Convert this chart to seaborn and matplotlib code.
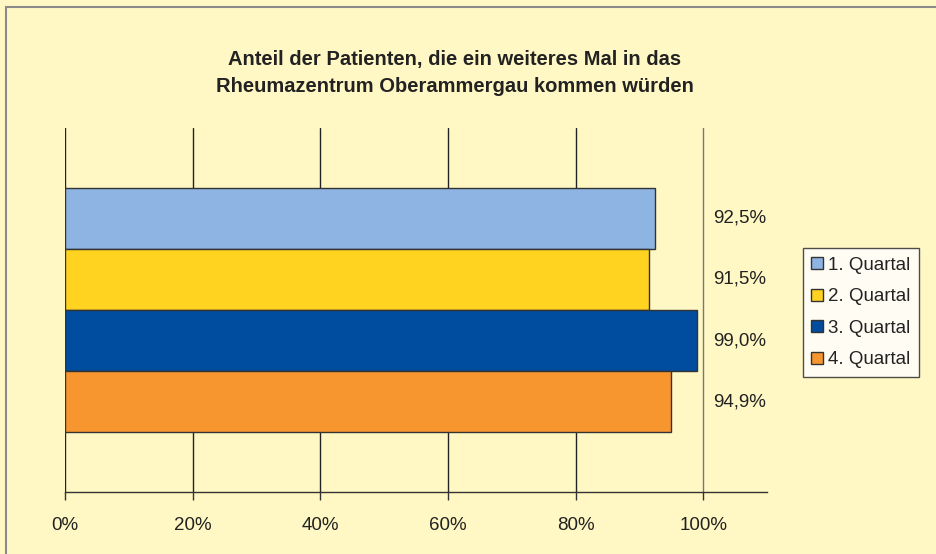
import pandas as pd
import seaborn as sns
import matplotlib.pyplot as plt
from matplotlib.patches import Rectangle

# ================== Daten ==================
quartale = ["1. Quartal", "2. Quartal", "3. Quartal", "4. Quartal"]
anteile = [92.5, 91.5, 99.0, 94.9]
wert_labels = ["92,5%", "91,5%", "99,0%", "94,9%"]
x_ticks = [0, 20, 40, 60, 80, 100]
x_tick_labels = ["0%", "20%", "40%", "60%", "80%", "100%"]
farben = ["#8EB4E3", "#FFD320", "#004C9E", "#F7962E"]

titel_zeilen = ["Anteil der Patienten, die ein weiteres Mal in das",
                "Rheumazentrum Oberammergau kommen würden"]

df = pd.DataFrame({"Gruppe": ["Patienten"] * 4, "Quartal": quartale, "Anteil": anteile})

# ================== Stil ==================
sns.set_theme(style="white")
plt.rcParams["font.family"] = ["Liberation Sans", "DejaVu Sans"]
bg = "#FFF8C4"

fig = plt.figure(figsize=(9.37, 5.54), dpi=100, facecolor=bg)
ax = fig.add_axes([65 / 937, 1 - 492 / 554, (767 - 65) / 937, (492 - 128) / 554])
ax.set_facecolor(bg)

# ================== Balken ==================
sns.barplot(
    data=df, x="Anteil", y="Gruppe", hue="Quartal", hue_order=quartale,
    palette=farben, orient="h", width=0.8, edgecolor="#333333", linewidth=1,
    saturation=1, ax=ax, legend=True
)

ax.set_xlim(0, 110)
ax.set_ylim(0.595, -0.595)
ax.set_xticks(x_ticks)
ax.set_xticklabels(x_tick_labels, fontsize=13.5, color="#222222")
ax.set_yticks([])
ax.set_xlabel("")
ax.set_ylabel("")
ax.tick_params(axis="x", direction="out", length=6, width=1, color="#333333", pad=12, bottom=True)
ax.grid(axis="x", color="#222222", linewidth=1)
ax.get_xgridlines()[-1].set_color("#777777")
ax.set_axisbelow(True)
for s in ["left", "right", "top"]:
    ax.spines[s].set_visible(False)
ax.spines["bottom"].set_color("#333333")
ax.spines["bottom"].set_linewidth(1)

# Werte rechts neben der Achse
for p, lab in zip(ax.patches[:4], wert_labels):
    ax.text(105.7, p.get_y() + p.get_height() / 2, lab, ha="center", va="center",
            fontsize=13.5, color="#222222", clip_on=False)

# ================== Legende ==================
handles, labels = ax.get_legend_handles_labels()
ax.get_legend().remove()
leg = fig.legend(handles, labels, loc="center left", bbox_to_anchor=(803 / 937, 1 - 312.5 / 554),
                 fontsize=13.5, frameon=True, fancybox=False, edgecolor="#222222",
                 handlelength=0.6, handleheight=0.6, handletextpad=0.3, labelspacing=0.78,
                 borderpad=0.45, borderaxespad=0)
leg.get_frame().set_linewidth(1)
leg.get_frame().set_facecolor("white")
for h in leg.legend_handles:
    h.set_edgecolor("#333333")
    h.set_linewidth(1)
for t in leg.get_texts():
    t.set_color("#222222")

# ================== Titel & Rahmen ==================
for zeile, basis in zip(titel_zeilen, [65.5, 92.5]):
    fig.text(455 / 937, 1 - basis / 554, zeile, ha="center", va="baseline", fontsize=14.5,
             fontweight="bold", color="#222222")
fig.add_artist(Rectangle((6 / 937, -0.2), 1.2, 1.2 - 7 / 554,
                         transform=fig.transFigure, fill=False, edgecolor="#8A8A8A", linewidth=1.5))

plt.savefig("out.png", dpi=100, facecolor=bg)
plt.close()
